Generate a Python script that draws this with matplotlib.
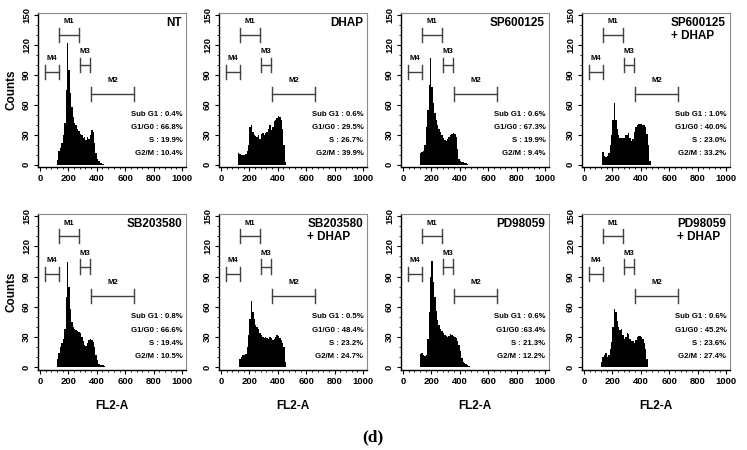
#!/usr/bin/env python
import numpy as np
import matplotlib
matplotlib.use("Agg")
import matplotlib.pyplot as plt
from matplotlib.ticker import MultipleLocator

# Histogram counts, 10 channel bins starting at FL2-A = 100
bin_start = 100
bin_width = 10

nt_counts = [0, 0, 5, 14, 17, 22, 30, 42, 75, 122, 95, 72, 58, 48, 42, 40, 36, 34, 31, 30,
	27, 28, 25, 28, 26, 30, 35, 33, 22, 12, 6, 4, 2, 2, 1, 0]
dhap_counts = [0, 0, 12, 11, 10, 10, 10, 11, 14, 20, 38, 40, 33, 30, 29, 28, 30, 26, 31, 32,
	30, 32, 33, 36, 40, 35, 38, 44, 45, 47, 49, 48, 45, 36, 20, 3, 0]
sp_counts = [0, 0, 12, 13, 14, 20, 38, 55, 80, 107, 78, 62, 52, 45, 40, 36, 33, 30, 27, 25,
	24, 26, 28, 30, 31, 32, 31, 28, 16, 6, 4, 3, 3, 2, 2, 1, 0]
sp_dhap_counts = [0, 0, 0, 13, 9, 8, 9, 12, 20, 30, 45, 62, 45, 36, 30, 27, 27, 27, 27, 30,
	30, 32, 27, 24, 26, 33, 38, 40, 41, 41, 41, 40, 40, 38, 31, 20, 4, 0]
sb_counts = [0, 0, 8, 14, 20, 24, 28, 38, 70, 104, 80, 58, 45, 40, 38, 37, 36, 35, 34, 30,
	26, 22, 21, 24, 27, 28, 27, 25, 20, 12, 7, 3, 2, 2, 2, 1, 0]
sb_dhap_counts = [0, 0, 0, 8, 10, 12, 12, 13, 20, 32, 48, 66, 55, 48, 42, 40, 38, 34, 32, 30,
	29, 30, 29, 28, 30, 29, 27, 28, 30, 32, 31, 29, 27, 24, 20, 5, 0]
pd_counts = [0, 0, 13, 14, 12, 11, 12, 28, 55, 90, 105, 85, 70, 56, 47, 42, 38, 36, 34, 32,
	31, 30, 31, 33, 32, 31, 30, 29, 26, 22, 16, 9, 5, 4, 3, 2, 1, 0]
pd_dhap_counts = [0, 0, 5, 10, 12, 14, 10, 12, 18, 25, 40, 58, 55, 46, 40, 37, 38, 32, 28, 30,
	34, 33, 28, 26, 26, 24, 27, 30, 31, 31, 30, 28, 24, 18, 8, 0]

titles = ["NT", "DHAP", "SP600125", "SP600125\n+ DHAP",
	"SB203580", "SB203580\n+ DHAP", "PD98059", "PD98059\n+ DHAP"]

sub_g1 = ["0.4%", "0.6%", "0.6%", "1.0%", "0.8%", "0.5%", "0.6%", "0.6%"]
g1_g0 = ["66.8%", "29.5%", "67.3%", "40.0%", "66.6%", "48.4%", "63.4%", "45.2%"]
s_phase = ["19.9%", "26.7%", "19.9%", "23.0%", "19.4%", "23.2%", "21.3%", "23.6%"]
g2_m = ["10.4%", "39.9%", "9.4%", "33.2%", "10.5%", "24.7%", "12.2%", "27.4%"]

# Gate markers: name, start, end, level
marker_names = ["M1", "M2", "M3", "M4"]
marker_start = [134, 362, 280, 35]
marker_end = [275, 659, 353, 134]
marker_level = [130, 71, 100, 93]

all_counts = [nt_counts, dhap_counts, sp_counts, sp_dhap_counts,
	sb_counts, sb_dhap_counts, pd_counts, pd_dhap_counts]

if __name__ == "__main__":

	plt.rcParams["font.family"] = ["Liberation Sans", "DejaVu Sans"]
	plt.rcParams["font.weight"] = "bold"

	W, H = 747.0, 450.0
	fig = plt.figure(figsize=(W / 100, H / 100), dpi=100)

	# panel positions in pixels
	lefts = [38, 219, 401, 582]
	rows = [(13, 167), (214, 370)]
	pw = 148

	for i, counts in enumerate(all_counts):

		r, c = divmod(i, 4)
		top, bot = rows[r]
		ax = fig.add_axes([lefts[c] / W, 1 - bot / H, pw / W, (bot - top) / H])

		edges = bin_start + bin_width * np.arange(len(counts) + 1)
		ax.stairs(counts, edges, fill=True, color="black", lw=0)

		# gates
		for name, x0, x1, lev in zip(marker_names, marker_start, marker_end, marker_level):
			ax.plot([x0, x1], [lev, lev], color="#404040", lw=1.0)
			ax.plot([x0, x0], [lev - 7, lev + 7], color="#404040", lw=1.0)
			ax.plot([x1, x1], [lev - 7, lev + 7], color="#404040", lw=1.0)
			ax.text((x0 + x1) / 2, lev + 13, name, ha="center", va="center",
				fontsize=5.6, fontweight="bold")

		# sample name
		ax.text(1000, 148, titles[i], ha="right", va="top", fontsize=8.5,
			fontweight="bold", multialignment="left", linespacing=1.15)

		# phase percentages
		stats = ["Sub G1 : " + sub_g1[i],
			("G1/G0 :" if i == 6 else "G1/G0 : ") + g1_g0[i],
			"S : " + s_phase[i],
			"G2/M : " + g2_m[i]]
		for k, s in enumerate(stats):
			ax.text(1003, 50 - 13 * k, s, ha="right", va="center", fontsize=5.6,
				fontweight="bold")

		ax.set_xlim(-14, 1028)
		ax.set_ylim(-2.5, 152)
		ax.set_xticks([0, 200, 400, 600, 800, 1000])
		ax.set_yticks([0, 30, 60, 90, 120, 150])
		ax.xaxis.set_minor_locator(MultipleLocator(40))
		ax.yaxis.set_minor_locator(MultipleLocator(10))
		ax.tick_params(which="major", direction="out", length=3, width=0.8,
			labelsize=6.8, pad=2)
		ax.tick_params(which="minor", direction="out", length=1.6, width=0.6)
		for lab in ax.get_yticklabels():
			lab.set_rotation(90)
			lab.set_va("center")
		for lab in ax.get_xticklabels() + ax.get_yticklabels():
			lab.set_fontweight("bold")

		for side in ["left", "bottom"]:
			ax.spines[side].set_linewidth(1.0)
		for side in ["top", "right"]:
			ax.spines[side].set_color("#8a8a8a")
			ax.spines[side].set_linewidth(0.8)

		if c == 0:
			ax.set_ylabel("Counts", fontsize=8.5, fontweight="bold", labelpad=3)
		if r == 1:
			ax.set_xlabel("FL2-A", fontsize=8.5, fontweight="bold", labelpad=10)

	fig.text(373 / W, 1 - 437 / H, "(d)", ha="center", va="center",
		fontsize=12.5, fontweight="bold", family=["Liberation Serif", "DejaVu Serif"])

	fig.savefig("out.png", dpi=100)
